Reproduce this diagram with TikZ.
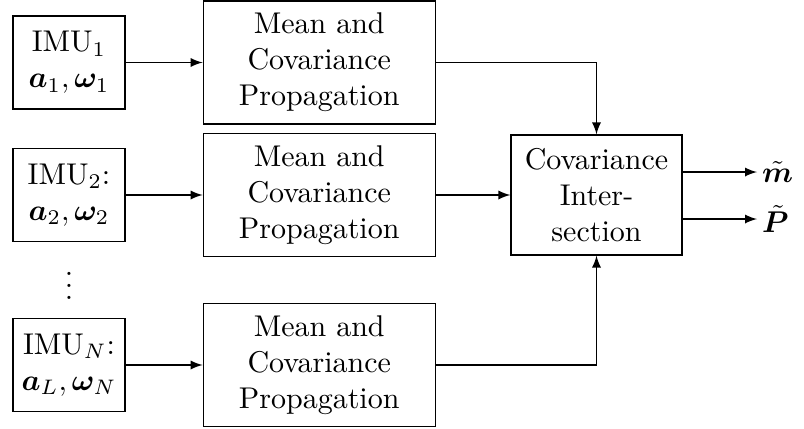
\documentclass[tikz,border=0pt]{standalone}
\usepackage{bm}
\usetikzlibrary{positioning}
\begin{document}
\begin{tikzpicture}[x=0.3333pt, y=-0.3333pt,
                    node distance=25.7pt,
                    line width=0.4pt,
                    >=latex,
                    ]
    \tikzstyle{imu}=[draw, align=center, minimum width=37.3pt, minimum height=31pt, inner sep=2pt]
    \tikzstyle{prop}=[imu, minimum width=77.3pt, minimum height=41pt]
    \tikzstyle{fusion}=[imu, minimum width=57pt, minimum height=40pt]
    \tikzstyle{result}=[inner sep=1.5pt, anchor=west]

    \useasboundingbox (0,0) rectangle (804,428);

    \node[imu] (imu1) at (69,62.5) {IMU$_1$\\ $\bm{a}_1,\bm{\omega}_1$};
    \node[imu] (imu2) at (69,195) {IMU$_2$:\\ $\bm{a}_2,\bm{\omega}_2$};
    \node (vdots) at (69,277) {$\vdots$};
    \node[imu] (imuN) at (69,365) {IMU$_N$:\\ $\bm{a}_L,\bm{\omega}_N$};

    \node[prop, right=of imu1] (prop1) {Mean and\\ Covariance\\ Propagation};
    \node[prop, right=of imu2] (prop2) {Mean and\\ Covariance\\ Propagation};
    \node[prop, right=of imuN] (propN) {Mean and\\ Covariance\\ Propagation};

    \node[fusion] (ci) at (596.5,195) {Covariance\\ Inter-\\ section};

    \node[result] (mout) at (757,172) {$\tilde{\bm{m}}$};
    \node[result] (Pout) at (757,219) {$\tilde{\bm{P}}$};

    \draw[->] (imu1) -- (prop1);
    \draw[->] (imu2) -- (prop2);
    \draw[->] (imuN) -- (propN);
    \draw[->] (prop1.east) -| (ci.north);
    \draw[->] (prop2) -- (ci);
    \draw[->] (propN.east) -| (ci.south);
    \draw[->] (ci.east |- mout) -- (mout);
    \draw[->] (ci.east |- Pout) -- (Pout);
\end{tikzpicture}
\end{document}
